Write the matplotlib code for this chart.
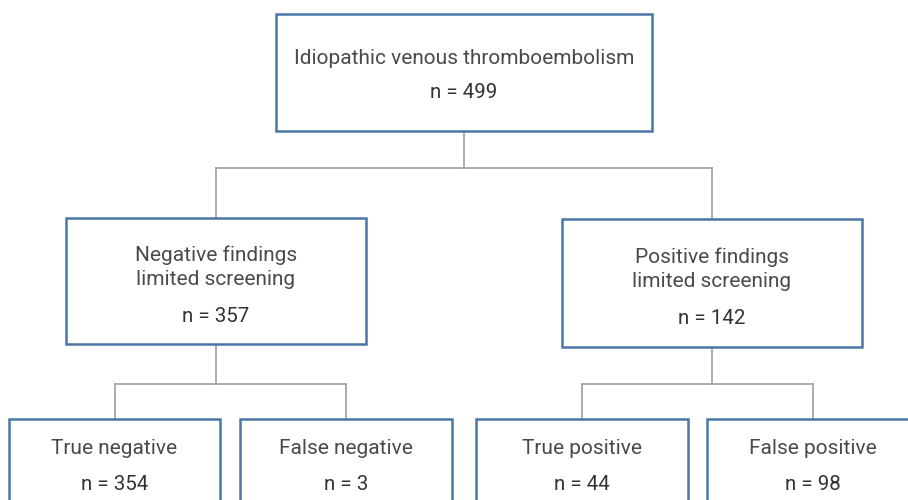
import matplotlib.pyplot as plt
from matplotlib.patches import Rectangle

# node data
labels = ['Idiopathic venous thromboembolism',
          'Negative findings\nlimited screening',
          'Positive findings\nlimited screening',
          'True negative', 'False negative',
          'True positive', 'False positive']
counts = [499, 357, 142, 354, 3, 44, 98]
parents = [None, 0, 0, 1, 1, 2, 2]

# layout (pixels, y downward): x0, y0, x1, y1
boxes = [(276, 14, 652, 131),
         (66, 218, 366, 344),
         (562, 219, 862, 347),
         (9, 419, 220, 530),
         (240, 419, 452, 530),
         (476, 419, 688, 530),
         (707, 419, 918, 530)]
# y of the horizontal connector under each parent
bus_y = {0: 168, 1: 384, 2: 384}
# text y positions for label and count in each box
label_y = [58, 267, 269, 449, 449, 449, 449]
count_y = [92, 316, 319, 484, 484, 484, 484]

box_col = '#4a77a6'
line_col = '#a6a6a6'
text_col = '#333333'

plt.rcParams['font.family'] = ['Roboto', 'DejaVu Sans']

fig = plt.figure(figsize=(9.08, 5.0), dpi=100)
ax = fig.add_axes([0, 0, 1, 1])
ax.set_xlim(0, 908)
ax.set_ylim(500, 0)
ax.axis('off')

def cx(i):
    return (boxes[i][0] + boxes[i][2]) / 2

# connectors
for p in set(x for x in parents if x is not None):
    kids = [i for i, q in enumerate(parents) if q == p]
    ax.plot([cx(p), cx(p)], [boxes[p][3], bus_y[p]], color=line_col, lw=1.3, zorder=1)
    xs = [cx(k) for k in kids]
    ax.plot([min(xs), max(xs)], [bus_y[p], bus_y[p]], color=line_col, lw=1.3, zorder=1)
    for k in kids:
        ax.plot([cx(k), cx(k)], [bus_y[p], boxes[k][1]], color=line_col, lw=1.3, zorder=1)

# boxes and text
for i, (x0, y0, x1, y1) in enumerate(boxes):
    ax.add_patch(Rectangle((x0, y0), x1 - x0, y1 - y0, facecolor='white',
                           edgecolor=box_col, lw=1.8, zorder=2))
    ax.text(cx(i), label_y[i], labels[i], ha='center', va='center',
            fontsize=15, color='#4a4a4a', fontweight='normal',
            linespacing=1.32, zorder=3)
    ax.text(cx(i), count_y[i], f'n = {counts[i]}', ha='center', va='center',
            fontsize=14.8, color=text_col, fontweight='normal', zorder=3)

fig.savefig('out.png', dpi=100)
